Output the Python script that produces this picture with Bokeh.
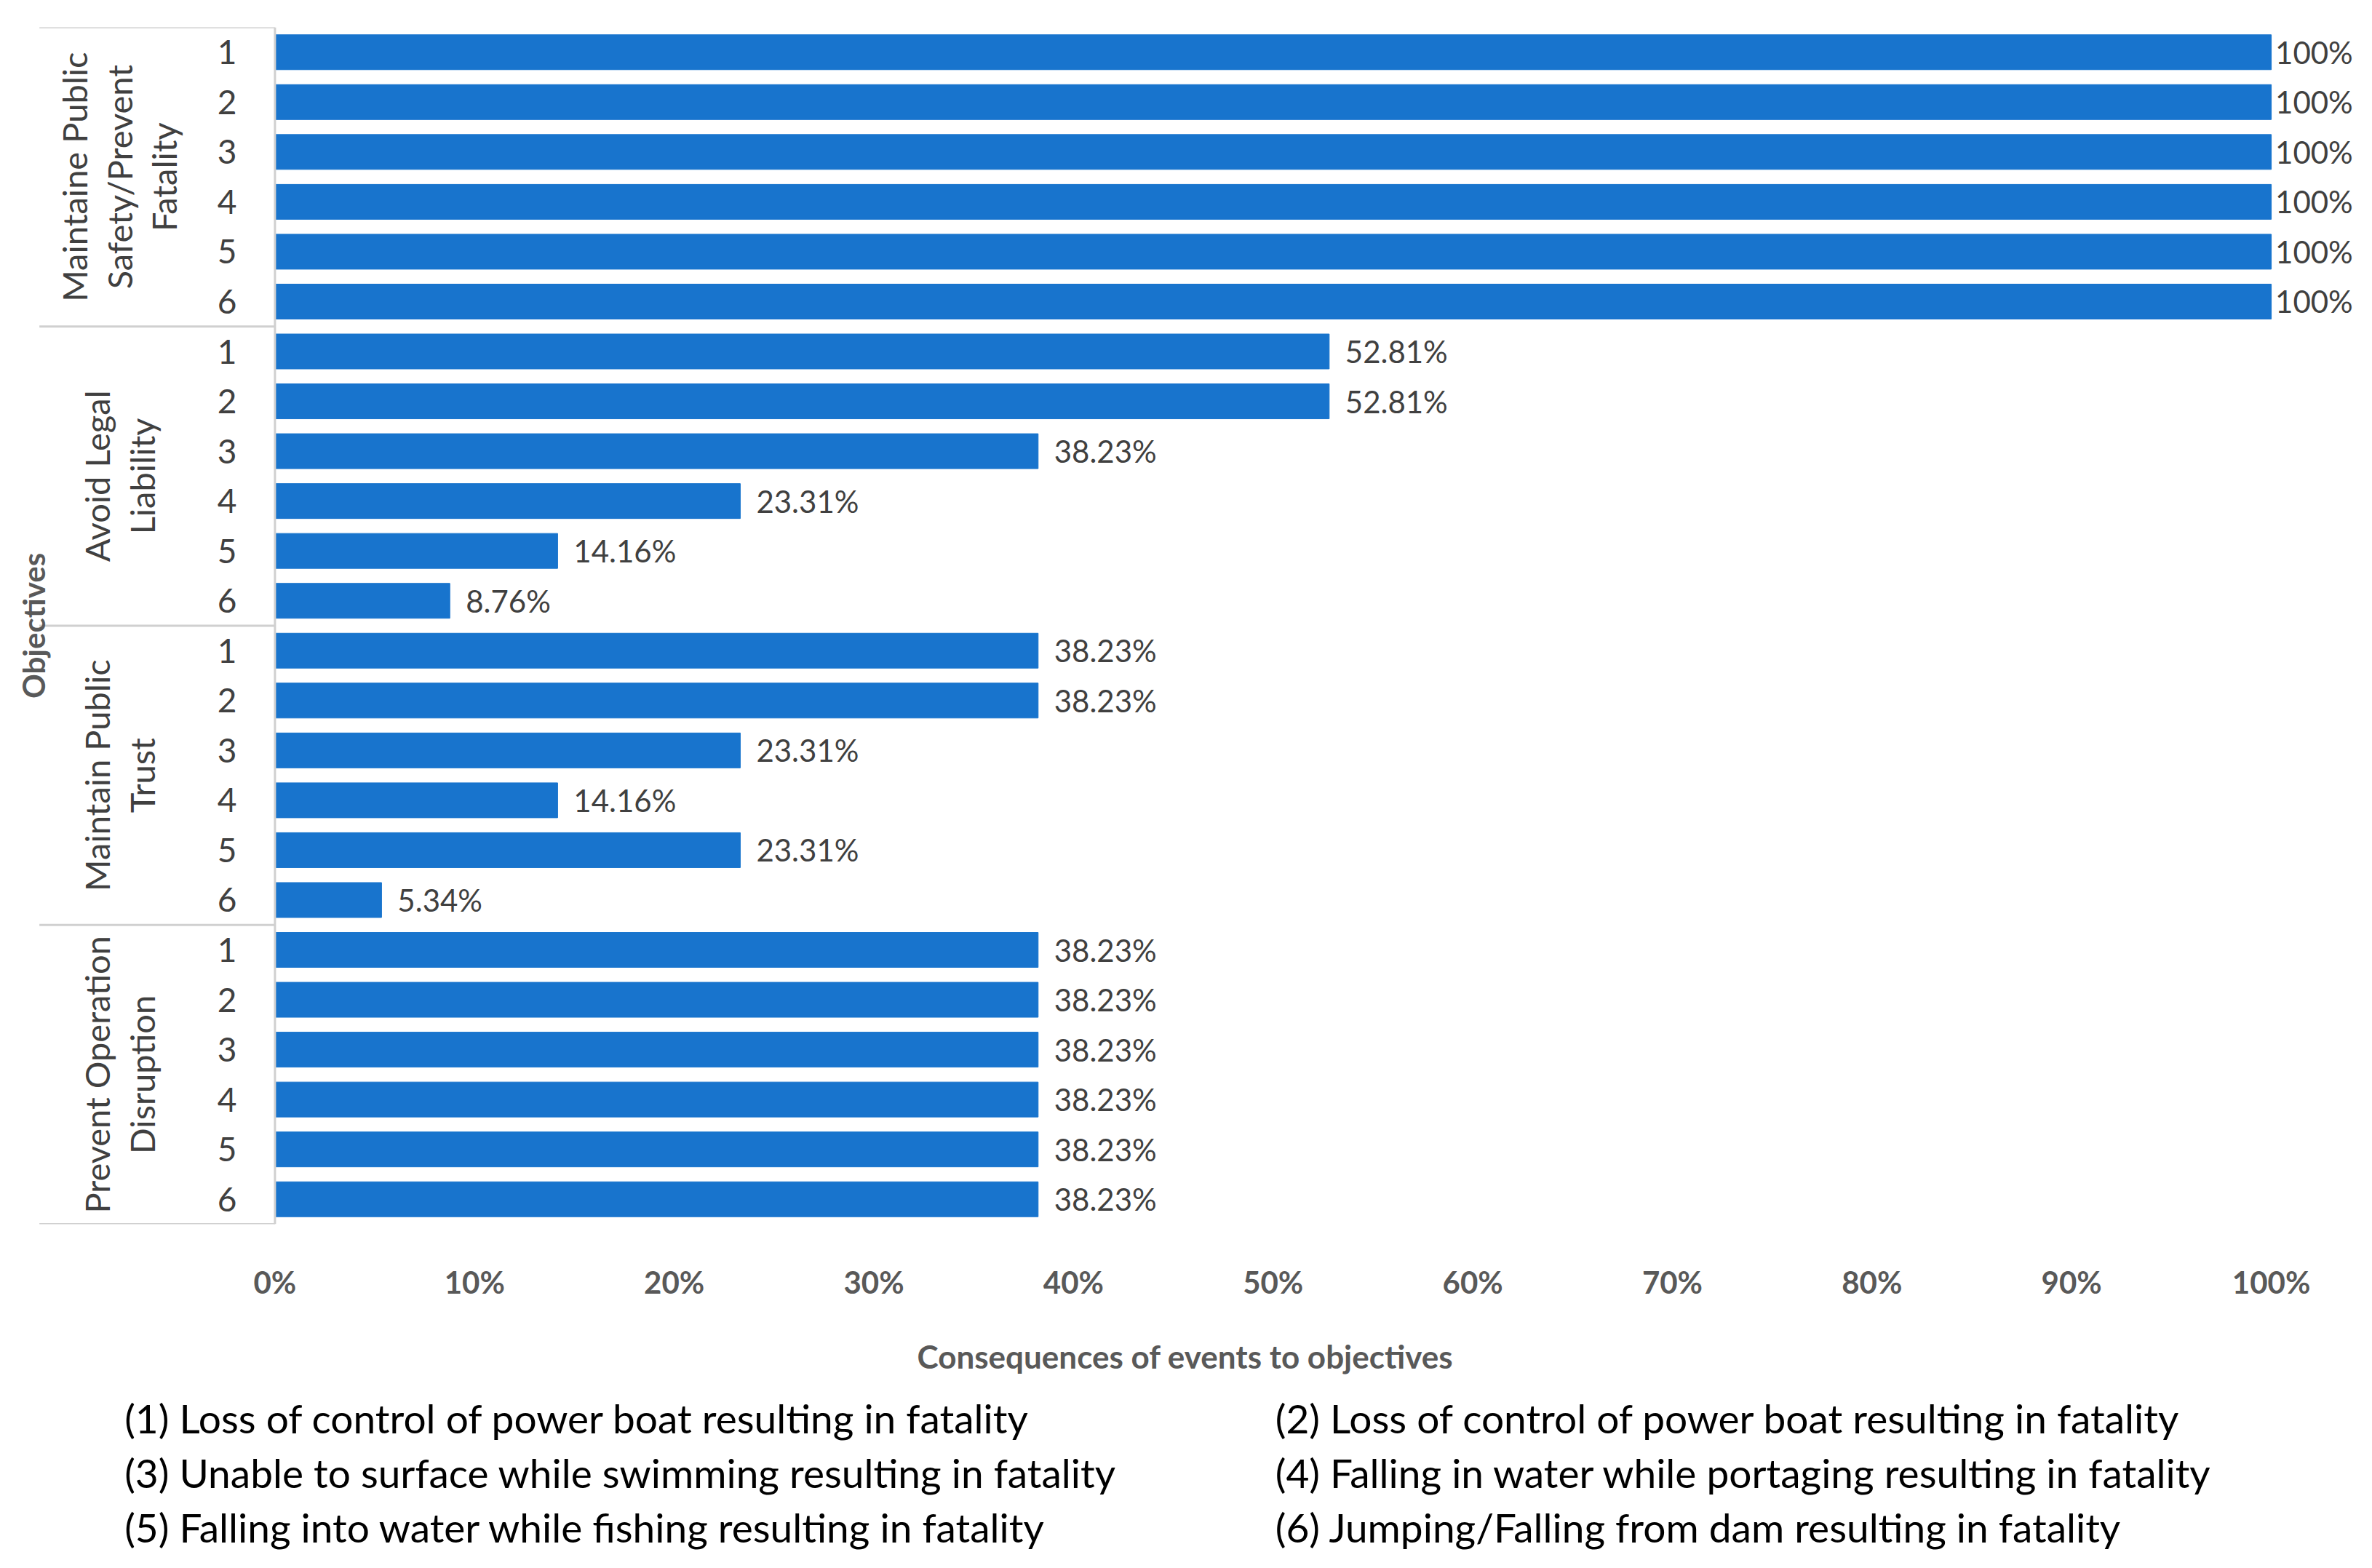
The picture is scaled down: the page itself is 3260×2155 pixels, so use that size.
import math
from bokeh.plotting import figure
from bokeh.models import ColumnDataSource, Range1d, FixedTicker, NumeralTickFormatter
from bokeh.layouts import column
from bokeh.embed import file_html
from bokeh.resources import INLINE
from bokeh.core.properties import value

groups = ["Maintaine Public\nSafety/Prevent\nFatality", "Avoid Legal\nLiability",
          "Maintain Public\nTrust", "Prevent Operation\nDisruption"]
events = ["1", "2", "3", "4", "5", "6"]
safety = [100, 100, 100, 100, 100, 100]
legal = [52.81, 52.81, 38.23, 23.31, 14.16, 8.76]
trust = [38.23, 38.23, 23.31, 14.16, 23.31, 5.34]
operation = [38.23, 38.23, 38.23, 38.23, 38.23, 38.23]
legend_items = [
    "(1) Loss of control of power boat resulting in fatality",
    "(2) Loss of control of power boat resulting in fatality",
    "(3) Unable to surface while swimming resulting in fatality",
    "(4) Falling in water while portaging resulting in fatality",
    "(5) Falling into water while fishing resulting in fatality",
    "(6) Jumping/Falling from dam resulting in fatality",
]
x_title = "Consequences of events to objectives"
y_title = "Objectives"

FONT = "Lato"
BLUE = "#1874CD"
series = [safety, legal, trust, operation]
vals, ys, labs, idx = [], [], [], []
row = 0
for s in series:
    for e, v in zip(events, s):
        vals.append(v / 100.0)
        ys.append(-row)
        labs.append("100%" if v == 100 else f"{v:.2f}%")
        idx.append(e)
        row += 1
n = row
src = ColumnDataSource(dict(y=ys, v=vals, lab=labs, idx=idx,
                            lx=[v + (0.002 if v >= 1 else 0.008) for v in vals],
                            ix=[-0.024] * n))

p = figure(width=3250, height=1892, output_backend="svg", toolbar_location=None,
           x_range=Range1d(-0.135, 1.047), y_range=Range1d(-n + 0.5, 0.5),
           min_border_left=7, min_border_right=0, min_border_top=37, min_border_bottom=207)
p.outline_line_color = None
p.grid.visible = False
p.yaxis.visible = False
p.hbar(y="y", right="v", left=0, height=0.7, color=BLUE, source=src)
p.text(x="lx", y="y", text="lab", source=src, text_font=value(FONT), text_font_size="42px",
       text_color="#404040", text_baseline="middle", text_align="left")
p.text(x="ix", y="y", text="idx", source=src, text_font=value(FONT), text_font_size="46px",
       text_color="#404040", text_baseline="middle", text_align="center")
p.segment(x0=[0], y0=[0.5], x1=[0], y1=[-n + 0.5], line_color="#d0d0d0", line_width=3)
bounds = [0.5 - 6 * g for g in range(len(groups) + 1)]
p.segment(x0=[-0.118] * len(bounds), y0=bounds, x1=[0] * len(bounds), y1=bounds,
          line_color="#d0d0d0", line_width=3)
gy = [0.5 - 6 * g - 3 for g in range(len(groups))]
p.text(x=[-0.078] * len(groups), y=gy, text=groups, angle=math.pi / 2,
       text_font=value(FONT), text_font_size="47px", text_color="#404040",
       text_align="center", text_baseline="middle", text_line_height=1.1)
p.text(x=[-0.121], y=[-n / 2 + 0.5], text=[y_title], angle=math.pi / 2,
       text_font=value(FONT), text_font_size="42px", text_color="#595959",
       text_align="center", text_baseline="middle", text_font_style="bold")

p.xaxis.ticker = FixedTicker(ticks=[i / 10 for i in range(11)])
p.xaxis.formatter = NumeralTickFormatter(format="0%")
p.xaxis.axis_line_color = None
p.xaxis.major_tick_line_color = None
p.xaxis.minor_tick_line_color = None
p.xaxis.major_label_text_font = FONT
p.xaxis.major_label_text_font_size = "42px"
p.xaxis.major_label_text_font_style = "bold"
p.xaxis.major_label_text_color = "#595959"
p.xaxis.major_label_standoff = 48
p.xaxis.axis_label = x_title
p.xaxis.axis_label_text_font = FONT
p.xaxis.axis_label_text_font_size = "44px"
p.xaxis.axis_label_text_font_style = "bold"
p.xaxis.axis_label_text_color = "#595959"
p.xaxis.axis_label_standoff = 48

lg = figure(width=3250, height=247, output_backend="svg", toolbar_location=None,
            x_range=Range1d(0, 3250), y_range=Range1d(247, 0), min_border=0)
lg.outline_line_color = None
lg.grid.visible = False
lg.axis.visible = False
lx = [164 + 1585 * (i % 2) for i in range(len(legend_items))]
ly = [56 + 75 * (i // 2) for i in range(len(legend_items))]
lg.text(x=lx, y=ly, text=legend_items, text_font=value(FONT), text_font_size="55px",
        text_color="#000000", text_baseline="middle", text_align="left")

layout = column(p, lg, spacing=0)
open("out.html", "w").write(file_html(layout, INLINE))
